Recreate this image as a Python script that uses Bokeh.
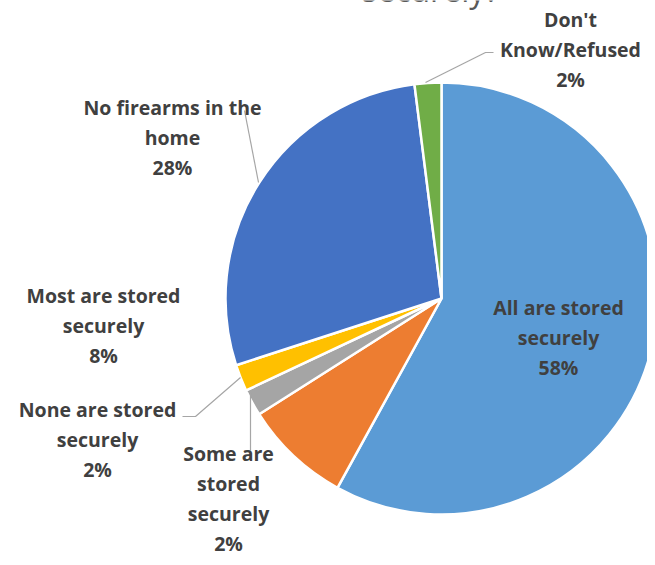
import math
from bokeh.plotting import figure
from bokeh.models import Range1d, ColumnDataSource
from bokeh.core.properties import value
from bokeh.embed import file_html
from bokeh.resources import INLINE

# ---- data ----
categories = ["All are stored securely", "Most are stored securely", "Some are stored securely",
              "None are stored securely", "No firearms in the home", "Don't Know/Refused"]
values = [58, 8, 2, 2, 28, 2]
colors = ["#5B9BD5", "#ED7D31", "#A5A5A5", "#FFC000", "#4472C4", "#70AD47"]
label_texts = ["All are stored\nsecurely\n58%", "Most are stored\nsecurely\n8%",
               "Some are\nstored\nsecurely\n2%", "None are stored\nsecurely\n2%",
               "No firearms in the\nhome\n28%", "Don't\nKnow/Refused\n2%"]
title_text = "securely?"

# ---- layout (picture pixel coords; y measured from top) ----
W, H = 647, 557
def Y(yp):
    return 565 - yp

cx, cy, r = 441, Y(298), 216
label_pos = [(558, 337), (103, 325), (228, 498), (97, 439), (172, 137), (570, 49)]
leaders = [None, None,
           [(250, 392), (250, 450)],
           [(240, 377), (195, 416), (182, 416)],
           None,
           [(425, 82), (485, 52), (493, 52)]]
extra_leaders = [[(258, 182), (244, 110)]]

p = figure(width=W, height=H, output_backend="svg", toolbar_location=None,
           x_range=Range1d(0, 647), y_range=Range1d(8, 565), min_border=0)
p.axis.visible = False
p.grid.visible = False
p.outline_line_color = None
p.background_fill_color = "white"
p.border_fill_color = "white"

total = float(sum(values))
starts, ends = [], []
cum = 0.0
for v in values:
    starts.append(math.pi / 2 - 2 * math.pi * cum / total)
    cum += v
    ends.append(math.pi / 2 - 2 * math.pi * cum / total)

src = ColumnDataSource(dict(start=starts, end=ends, color=colors, cat=categories))
p.wedge(x=cx, y=cy, radius=r, start_angle="start", end_angle="end", direction="clock",
        fill_color="color", line_color="white", line_width=2.5, source=src)

for ld in leaders + extra_leaders:
    if ld:
        p.line([q[0] for q in ld], [Y(q[1]) for q in ld], line_color="#A6A6A6", line_width=1.2)

p.text(x=[q[0] for q in label_pos], y=[Y(q[1]) for q in label_pos], text=label_texts,
       text_font=value("Open Sans"), text_font_style="bold", text_font_size="19.5px",
       text_color="#404040", text_align="center", text_baseline="middle",
       text_line_height=1.12)

p.text(x=[430], y=[Y(-11)], text=[title_text], text_font=value("Open Sans"),
       text_font_size="32px", text_color="#595959", text_align="center",
       text_baseline="alphabetic")

open("out.html", "w").write(file_html(p, INLINE))
